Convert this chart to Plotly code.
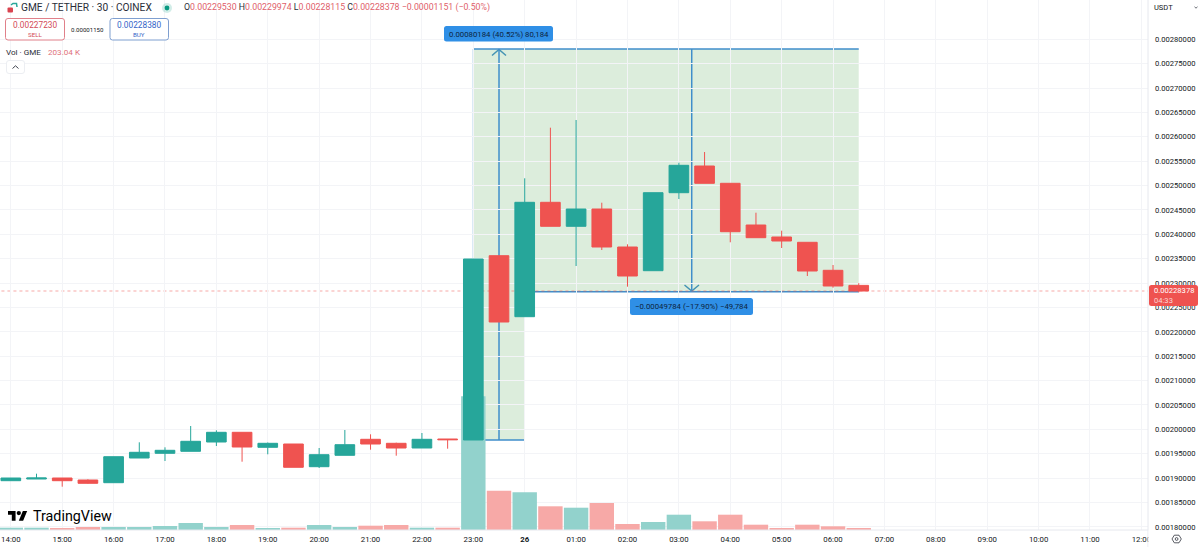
import pandas as pd
import plotly.graph_objects as go

W, H = 1200, 547
times = pd.date_range("2024-06-25 14:00", periods=34, freq="30min")
opens = [.00189473,.00189822,.00190027,.00189617,.00189063,.00194129,.00195093,.00195503,.00197410,.00199400,.00196323,.00197000,.00192344,.00194682,.00197964,.00197144,.00196180,.00198025,
         .00197820,.00235618,.00223108,.00246570,.00241648,.00245196,.00237403,.00232542,.00248539,.00254015,.00250467,.00241915,.00239454,.00238367,.00232624,.00229530]
highs = [.00190027,.00190909,.00190027,.00189760,.00194395,.00197349,.00196323,.00200692,.00199810,.00199400,.00197300,.00197000,.00196180,.00199871,.00198989,.00197267,.00199256,.00198025,
         .00234942,.00235618,.00251492,.00261870,.00263449,.00246488,.00237957,.00248539,.00254692,.00256886,.00250467,.00244437,.00240745,.00238367,.00233711,.00229974]
lows = [.00189473,.00189822,.00188243,.00188858,.00189063,.00194129,.00193514,.00195503,.00196590,.00193370,.00194888,.00192221,.00192078,.00194682,.00195831,.00194600,.00196180,.00196036,
        .00197820,.00222021,.00223108,.00241648,.00233506,.00236787,.00229261,.00232542,.00247247,.00250467,.00238367,.00239310,.00237198,.00231455,.00229056,.00228115]
closes = [.00190027,.00190027,.00189473,.00188940,.00194395,.00195298,.00195708,.00197554,.00199400,.00196385,.00197144,.00192221,.00194806,.00196857,.00197000,.00196180,.00197964,.00197882,
          .00234942,.00222021,.00246570,.00241648,.00245196,.00237403,.00231455,.00248539,.00254159,.00250467,.00240541,.00239310,.00238633,.00232481,.00229404,.00228378]
volumes_k = [230,230,200,300,300,300,400,700,300,500,130,230,500,300,430,500,230,230,
             13370,3930,3770,2370,2230,2700,600,800,1530,870,1530,530,200,530,370,203.04]

tick_hours = pd.date_range("2024-06-25 14:00", periods=23, freq="1h")
tick_text = ["14:00","15:00","16:00","17:00","18:00","19:00","20:00","21:00","22:00","23:00","<b>26</b>",
             "01:00","02:00","03:00","04:00","05:00","06:00","07:00","08:00","09:00","10:00","11:00","12:00"]
price_ticks = [0.0018 + i * 0.00005 for i in range(21)]

pos_entry_x = "2024-06-25 23:00"
pos_split_x = "2024-06-26 00:00"
pos_end_x = "2024-06-26 06:30"
pos_arrow1_x = "2024-06-25 23:30"
pos_arrow2_x = "2024-06-26 03:15"
pos_top = 0.00278011
pos_low = 0.00197827
pos_final = 0.00228227
last_price = 0.00228378

UP, DOWN = "#26a69a", "#ef5350"
BLUE = "#3f8ecb"
GRID = "#f3f4f7"
TXT = "#131722"
bar_colors = ["#92d2cc" if c >= o else "#f7a9a7" for o, c in zip(opens, closes)]

def px(x): return x / W
def py(y): return 1 - y / H
def P(pts, close=False):
    s = "M " + " L ".join(f"{px(x):.5f},{py(y):.5f}" for x, y in pts)
    return s + (" Z" if close else "")

fig = go.Figure()
fig.add_trace(go.Bar(x=times, y=volumes_k, marker=dict(color=bar_colors, line_width=0), width=1000*60*30*0.95,
                     yaxis="y", xaxis="x", showlegend=False, hoverinfo="skip"))
fig.add_trace(go.Candlestick(x=times, open=opens, high=highs, low=lows, close=closes, yaxis="y2", xaxis="x",
    increasing=dict(line=dict(color=UP, width=1), fillcolor=UP),
    decreasing=dict(line=dict(color=DOWN, width=1), fillcolor=DOWN),
    whiskerwidth=0, showlegend=False))

shapes = []
def data_rect(x0, x1, y0, y1):
    shapes.append(dict(type="rect", xref="x", yref="y2", x0=x0, x1=x1, y0=y0, y1=y1, layer="below",
                       fillcolor="rgba(92,170,92,0.21)", line_width=0))
def data_line(x0, x1, y0, y1, w=1.5):
    shapes.append(dict(type="line", xref="x", yref="y2", x0=x0, x1=x1, y0=y0, y1=y1, layer="below",
                       line=dict(color=BLUE, width=w)))
data_rect(pos_entry_x, pos_split_x, pos_low, pos_top)
data_rect(pos_split_x, pos_end_x, pos_final, pos_top)
data_line(pos_entry_x, pos_end_x, pos_top, pos_top)
data_line(pos_entry_x, pos_entry_x, pos_low, pos_top, 1)
data_line(pos_entry_x, pos_split_x, pos_low, pos_low)
data_line(pos_split_x, pos_end_x, pos_final, pos_final)
data_line(pos_arrow1_x, pos_arrow1_x, pos_low, pos_top)
data_line(pos_arrow2_x, pos_arrow2_x, pos_final, pos_top)
# arrow heads
shapes.append(dict(type="path", xref="paper", yref="paper", layer="below", path=P([(492,55.5),(499,49.5),(506,55.5)]), line=dict(color=BLUE, width=1.5)))
shapes.append(dict(type="path", xref="paper", yref="paper", layer="below", path=P([(684.5,285),(691.7,291),(699,285)]), line=dict(color=BLUE, width=1.5)))
# last-price line
shapes.append(dict(type="line", xref="x", yref="y2", x0=times[0]-pd.Timedelta(hours=1), x1="2024-06-26 13:00", y0=last_price, y1=last_price,
                   layer="below", line=dict(color="rgba(239,83,80,0.5)", width=1, dash="dot")))

# axis frame
shapes.append(dict(type="line", xref="paper", yref="paper", x0=px(1148), x1=px(1148), y0=0, y1=1, line=dict(color="#e6e8ee", width=1)))
shapes.append(dict(type="line", xref="paper", yref="paper", x0=0, x1=px(1148), y0=py(530), y1=py(530), line=dict(color="#e6e8ee", width=1)))
# mask that clips the last time label
shapes.append(dict(type="rect", xref="paper", yref="paper", x0=px(1148.5), x1=1, y0=0, y1=py(530.5), fillcolor="white", line_width=0))

def pill(x0, y0, x1, y1, fill, line="rgba(0,0,0,0)", w=1, r=2.5):
    path = (f"M {px(x0+r)},{py(y0)} L {px(x1-r)},{py(y0)} Q {px(x1)},{py(y0)} {px(x1)},{py(y0+r)} "
            f"L {px(x1)},{py(y1-r)} Q {px(x1)},{py(y1)} {px(x1-r)},{py(y1)} L {px(x0+r)},{py(y1)} "
            f"Q {px(x0)},{py(y1)} {px(x0)},{py(y1-r)} L {px(x0)},{py(y0+r)} Q {px(x0)},{py(y0)} {px(x0+r)},{py(y0)} Z")
    shapes.append(dict(type="path", xref="paper", yref="paper", path=path, fillcolor=fill, line=dict(color=line, width=w)))

def circle(cx, cy, r, fill, line="rgba(0,0,0,0)", w=1):
    shapes.append(dict(type="circle", xref="paper", yref="paper", x0=px(cx-r), x1=px(cx+r), y0=py(cy+r), y1=py(cy-r),
                       fillcolor=fill, line=dict(color=line, width=w)))

pill(444, 26, 553, 41.5, "#2f8fe6")
pill(630, 298, 753, 315, "#2f8fe6")
pill(1149, 285, 1198, 306, "#ef5350")
pill(5.5, 18.5, 64.5, 40, "white", "#e0808a")
pill(110, 18.5, 168.5, 40, "white", "#7f9fd0")
pill(6.5, 60.5, 24.5, 73.5, "white", "#eceef2")
shapes.append(dict(type="path", xref="paper", yref="paper", path=P([(12.5,68.5),(15.5,65.8),(18.5,68.5)]), line=dict(color="#40444f", width=1)))
# symbol logo, status dot
circle(167, 8, 5, "rgba(8,153,129,0.18)")
circle(167, 8, 2.4, "#089981")
pill(7.5, 7.5, 13, 12.5, "#d9434f", r=1)
shapes.append(dict(type="path", xref="paper", yref="paper", path=P([(11,5),(13,3.5),(16.5,3.5),(17,7)]), line=dict(color="#2aa79b", width=1.5)))
# settings icon
shapes.append(dict(type="path", xref="paper", yref="paper",
    path=P([(1172,539),(1174.3,535.2),(1179,535.2),(1181.3,539),(1179,542.8),(1174.3,542.8)], True), line=dict(color="#30343e", width=0.8)))
circle(1176.6, 539, 1.4, "white", "#30343e", 0.8)
shapes.append(dict(type="path", xref="paper", yref="paper", path=P([(1194.5,6.8),(1196,8.2),(1197.5,6.8)]), line=dict(color="#40444f", width=0.8)))

# TradingView logo mark
s, ox, oy = 0.54, 8, 508.8
def L(pts): return P([(ox + a*s, oy + b*s) for a, b in pts], True)
shapes.append(dict(type="path", xref="paper", yref="paper", path=L([(0,4),(14,4),(14,22),(7,22),(7,11),(0,11)]), fillcolor="#000000", line_width=0))
shapes.append(dict(type="path", xref="paper", yref="paper", path=L([(27.5,4),(35.5,4),(28,22),(20,22)]), fillcolor="#000000", line_width=0))
circle(ox + 20*s, oy + 8*s, 4*s, "#000000")

anns = []
def T(x, y, text, size=8, color=TXT, anchor="left", font="Roboto"):
    anns.append(dict(xref="paper", yref="paper", x=px(x), y=py(y), text=text, showarrow=False, xanchor=anchor, yanchor="middle",
                     font=dict(family=font, size=size, color=color), borderpad=0, borderwidth=0))

R = "#e0606a"
T(20.5, 7.8, "GME / TETHER · 30 · COINEX", 10.2, "#2a2e39")
T(184, 7.8, f"O<span style='color:{R}'>0.00229530</span> H<span style='color:{R}'>0.00229974</span> L<span style='color:{R}'>0.00228115</span> C<span style='color:{R}'>0.00228378 −0.00001151 (−0.50%)</span>", 8.75, "#2a2e39")
T(35, 25, "0.00227230", 8.3, "#d34a57", "center")
T(35, 34.8, "SELL", 6.2, "#d34a57", "center")
T(87, 29.5, "0.00001150", 6.1, TXT, "center")
T(139, 25, "0.00228380", 8.3, "#3565c8", "center")
T(139, 34.8, "BUY", 6.2, "#3565c8", "center")
T(6, 51.5, "Vol · GME", 8.1, "#2a2e39")
T(48, 51.5, "203.04 K", 8.1, "#e0707a")
T(33, 516, "TradingView", 14.3, "#000000")
T(498.5, 34, "0.00080184 (40.52%) 80,184", 7.8, "#0d2440", "center")
T(691.5, 306.5, "−0.00049784 (−17.90%) −49,784", 7.8, "#0d2440", "center")
T(1153.5, 7.8, "USDT", 7.5, TXT)
T(1153.5, 291, "0.00228378", 7.6, "#ffffff")
T(1153.5, 300.5, "04:33", 7.6, "#fbd5d4")

fig.update_layout(
    width=W, height=H, margin=dict(l=0, r=0, t=0, b=0, pad=0, autoexpand=False), autosize=False,
    paper_bgcolor="white", plot_bgcolor="white", showlegend=False, boxgap=0.235, boxgroupgap=0, barmode="overlay",
    font=dict(family="Roboto", size=8, color=TXT), shapes=shapes, annotations=anns,
    xaxis=dict(type="date", domain=[0, 1148/W], range=["2024-06-25 13:47:22", "2024-06-26 12:07:44"],
               tickmode="array", tickvals=list(tick_hours), ticktext=tick_text, tickangle=0, ticklen=0, ticklabelstandoff=3,
               showgrid=True, gridcolor=GRID, gridwidth=1, zeroline=False, showline=False, rangeslider=dict(visible=False),
               tickfont=dict(family="Roboto", size=7.8, color=TXT), anchor="y"),
    yaxis=dict(domain=[17/H, 1], range=[0, 53000], visible=False, showgrid=False, fixedrange=True),
    yaxis2=dict(domain=[17/H, 1], overlaying="y", side="right", range=[0.00179362, 0.0028806], anchor="x",
                tickmode="array", tickvals=price_ticks, tickformat=".8f", ticklen=0, ticklabelstandoff=6,
                showgrid=True, gridcolor=GRID, gridwidth=1, zeroline=False, showline=False,
                tickfont=dict(family="Roboto", size=7.6, color=TXT)),
)
fig.write_html("out.html", config=dict(displayModeBar=False),
               post_script="document.body.style.margin='0';document.body.style.overflow='hidden';")
